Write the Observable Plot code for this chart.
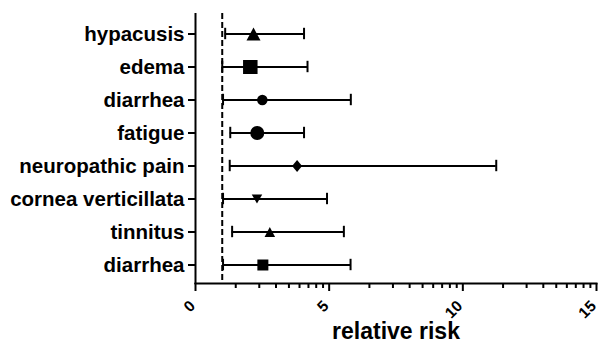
<!DOCTYPE html>
<html>
<head>
<meta charset="utf-8">
<script src="https://cdn.jsdelivr.net/npm/d3@7"></script>
<script src="https://cdn.jsdelivr.net/npm/@observablehq/plot@0.6"></script>
<style>
  html, body { margin: 0; padding: 0; background: white; }
</style>
</head>
<body>
<div id="chart"></div>
<script>
// ---- data ----
const labels = ["hypacusis", "edema", "diarrhea", "fatigue", "neuropathic pain", "cornea verticillata", "tinnitus", "diarrhea"];
const relativeRisk = [2.17, 2.05, 2.5, 2.31, 3.8, 2.3, 2.78, 2.52];
const lowerCI = [1.11, 1.0, 1.03, 1.3, 1.28, 1.03, 1.37, 1.03];
const upperCI = [4.06, 4.19, 5.81, 4.06, 11.25, 4.92, 5.55, 5.8];
const markerShape = ["triangle", "square", "circle", "circle", "diamond", "triangleDown", "triangle", "square"];
const majorTicks = [0, 5, 10, 15];
const referenceLine = [1];

// ---- marker styling (pixel sizes of each row's marker) ----
const markerDims = [[14, 13], [14.5, 14], [10.5, 10.5], [14, 14], [10, 12], [10.5, 9], [10.5, 10], [11, 11]];

function makeSymbol(shape, w, h) {
  return {
    draw(ctx) {
      const a = w / 2, b = h / 2;
      if (shape === "circle") {
        ctx.moveTo(a, 0);
        ctx.arc(0, 0, a, 0, 2 * Math.PI);
      } else if (shape === "square") {
        ctx.rect(-a, -b, w, h);
      } else if (shape === "triangle") {
        ctx.moveTo(0, -b); ctx.lineTo(a, b); ctx.lineTo(-a, b);
      } else if (shape === "triangleDown") {
        ctx.moveTo(0, b); ctx.lineTo(a, -b); ctx.lineTo(-a, -b);
      } else if (shape === "diamond") {
        ctx.moveTo(0, -b); ctx.lineTo(a, 0); ctx.lineTo(0, b); ctx.lineTo(-a, 0);
      }
      ctx.closePath();
    }
  };
}

const rows = labels.map((label, i) => ({
  key: String(i), label, rr: relativeRisk[i], lo: lowerCI[i], hi: upperCI[i]
}));

// GraphPad-style logarithmic minor ticks inside each major interval
const minorTicks = d3.range(majorTicks.length - 1).flatMap(i =>
  d3.range(2, 10).map(k => majorTicks[i] + (majorTicks[i + 1] - majorTicks[i]) * Math.log10(k)));

const W = 600, H = 343, MT = 15, MB = 60;
const frameH = H - MT - MB;
const capInset = 10.8;

const plot = Plot.plot({
  width: W,
  height: H,
  marginTop: MT,
  marginBottom: MB,
  marginLeft: 195,
  marginRight: 4,
  style: { fontFamily: "'Liberation Sans', Arial, sans-serif", fontWeight: "bold", color: "black", background: "white" },
  x: { domain: [0, 15] },
  y: { domain: rows.map(d => d.key), padding: 0 },
  marks: [
    Plot.axisY({ tickFormat: k => labels[+k], tickSize: 7, tickPadding: 4, fontSize: 20.5, strokeWidth: 2, label: null, style: { letterSpacing: "0.7px" } }),
    // minor and major tick marks below the x axis line
    Plot.ruleX(minorTicks, { x: d => d, strokeWidth: 2, insetTop: frameH, insetBottom: -5 }),
    Plot.ruleX(majorTicks, { x: d => d, strokeWidth: 2, insetTop: frameH, insetBottom: -8 }),
    // rotated tick labels
    Plot.axisX({ ticks: majorTicks, tickSize: 0, tickPadding: 20, tickRotate: -45, fontSize: 15.5, label: null, dx: -3 }),
    Plot.ruleX([0], { strokeWidth: 2, insetTop: -2, insetBottom: -1 }),
    Plot.frame({ anchor: "bottom", strokeWidth: 2 }),
    Plot.ruleY(rows, { y: "key", x1: "lo", x2: "hi", strokeWidth: 2 }),
    Plot.tickX(rows, { x: "lo", y: "key", strokeWidth: 2, insetTop: capInset, insetBottom: capInset }),
    Plot.tickX(rows, { x: "hi", y: "key", strokeWidth: 2, insetTop: capInset, insetBottom: capInset }),
    Plot.ruleX(referenceLine, { strokeWidth: 2, strokeDasharray: "6,3", insetTop: -2 }),
    ...rows.map((d, i) => Plot.dot([d], {
      x: "rr", y: "key", fill: "black", stroke: "none",
      symbol: makeSymbol(markerShape[i], markerDims[i][0], markerDims[i][1])
    })),
    Plot.text(["relative risk"], { frameAnchor: "bottom", dy: 55, lineAnchor: "bottom", fontSize: 23, fontWeight: "bold", style: { letterSpacing: "0.8px" } })
  ]
});

document.getElementById("chart").append(plot);
</script>
</body>
</html>
